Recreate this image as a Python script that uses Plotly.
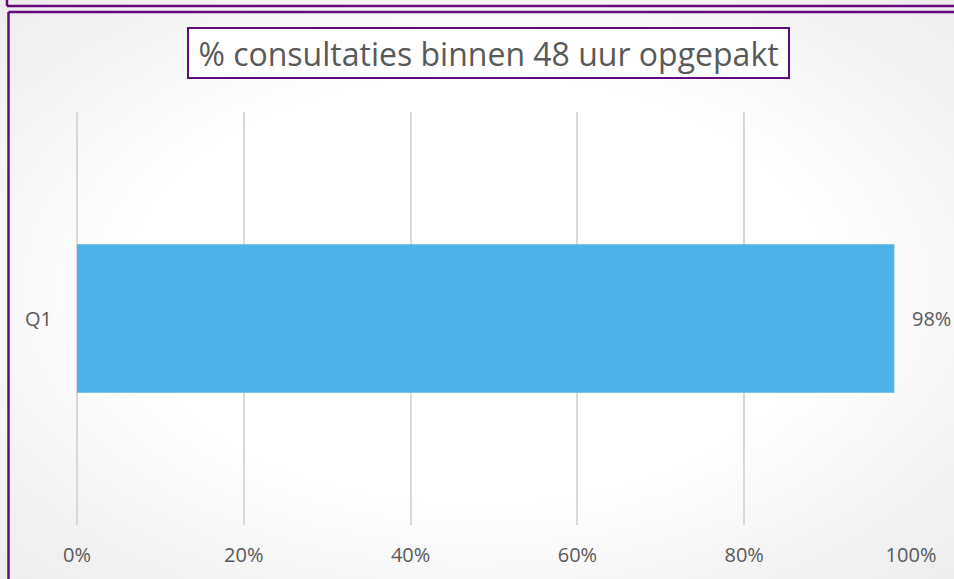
import base64
import plotly.graph_objects as go

# data
categories = ["Q1"]
values = [0.98]
tick_vals = [0, 0.2, 0.4, 0.6, 0.8, 1.0]
tick_text = ["0%", "20%", "40%", "60%", "80%", "100%"]
title_text = "% consultaties binnen 48 uur opgepakt"

W, H = 954, 579
L, R, T, B = 77, 43, 112, 54
PW, PH = W - L - R, H - T - B
PURPLE = "#620A7E"
GREY = "#595959"
FONT = "Open Sans, sans-serif"


def px(x):
    return (x - L) / PW


def py(y):
    return 1 - (y - T) / PH


svg = (
    '<svg xmlns="http://www.w3.org/2000/svg" width="954" height="579" preserveAspectRatio="none">'
    '<defs><radialGradient id="g" cx="50%" cy="50%" r="72%">'
    '<stop offset="0%" stop-color="#ffffff"/>'
    '<stop offset="50%" stop-color="#ffffff"/>'
    '<stop offset="100%" stop-color="#ececec"/>'
    '</radialGradient></defs>'
    '<rect width="954" height="579" fill="url(#g)"/></svg>'
)
bg_src = "data:image/svg+xml;base64," + base64.b64encode(svg.encode()).decode()

fig = go.Figure()
fig.add_trace(go.Bar(
    y=categories, x=values, orientation="h",
    marker=dict(color="#4DB3E6", line=dict(width=0)),
    hoverinfo="skip",
))

# value labels right of the bars
annotations = [
    dict(x=v, y=c, xref="x", yref="y", text=f"{v:.0%}", showarrow=False,
         xanchor="left", yanchor="middle", xshift=16,
         font=dict(size=20, color=GREY, family=FONT))
    for c, v in zip(categories, values)
]
annotations.append(dict(
    text=title_text, xref="paper", yref="paper",
    x=px(488.5), y=py(53), xanchor="center", yanchor="middle",
    showarrow=False, font=dict(size=32, color=GREY),
    width=597, height=46, align="center",
    bordercolor=PURPLE, borderwidth=2, borderpad=1, bgcolor="white",
))

fig.update_layout(
    width=W, height=H,
    margin=dict(l=L, r=R, t=T, b=B),
    paper_bgcolor="white", plot_bgcolor="rgba(0,0,0,0)",
    font=dict(family=FONT, color=GREY),
    bargap=0.64, showlegend=False,
    xaxis=dict(
        range=[0, 1], tickvals=tick_vals, ticktext=tick_text,
        showgrid=True, gridcolor="#d9d9d9", gridwidth=2,
        zeroline=True, zerolinecolor="#d9d9d9", zerolinewidth=2,
        showline=False, ticks="",
        tickfont=dict(size=20, color=GREY), ticklabelstandoff=16,
        fixedrange=True,
    ),
    yaxis=dict(
        showgrid=False, zeroline=False, showline=False, ticks="",
        tickfont=dict(size=20, color=GREY), ticklabelstandoff=24,
        fixedrange=True,
    ),
    images=[dict(
        source=bg_src, xref="paper", yref="paper",
        x=px(0), y=py(0), sizex=W / PW, sizey=H / PH,
        xanchor="left", yanchor="top", sizing="stretch", layer="below",
    )],
    shapes=[
        # upper box edge
        dict(type="line", xref="paper", yref="paper", x0=px(7), x1=px(960),
             y0=py(6), y1=py(6), line=dict(color=PURPLE, width=2.5)),
        dict(type="line", xref="paper", yref="paper", x0=px(7), x1=px(7),
             y0=py(-5), y1=py(6), line=dict(color=PURPLE, width=2.5)),
        # main box edge
        dict(type="line", xref="paper", yref="paper", x0=px(8.5), x1=px(960),
             y0=py(12), y1=py(12), line=dict(color=PURPLE, width=2.5)),
        dict(type="line", xref="paper", yref="paper", x0=px(8.5), x1=px(8.5),
             y0=py(12), y1=py(590), line=dict(color=PURPLE, width=2.5)),
    ],
    annotations=annotations,
)

fig.write_html("out.html", config={"displayModeBar": False},
               post_script="document.body.style.margin='0';")
